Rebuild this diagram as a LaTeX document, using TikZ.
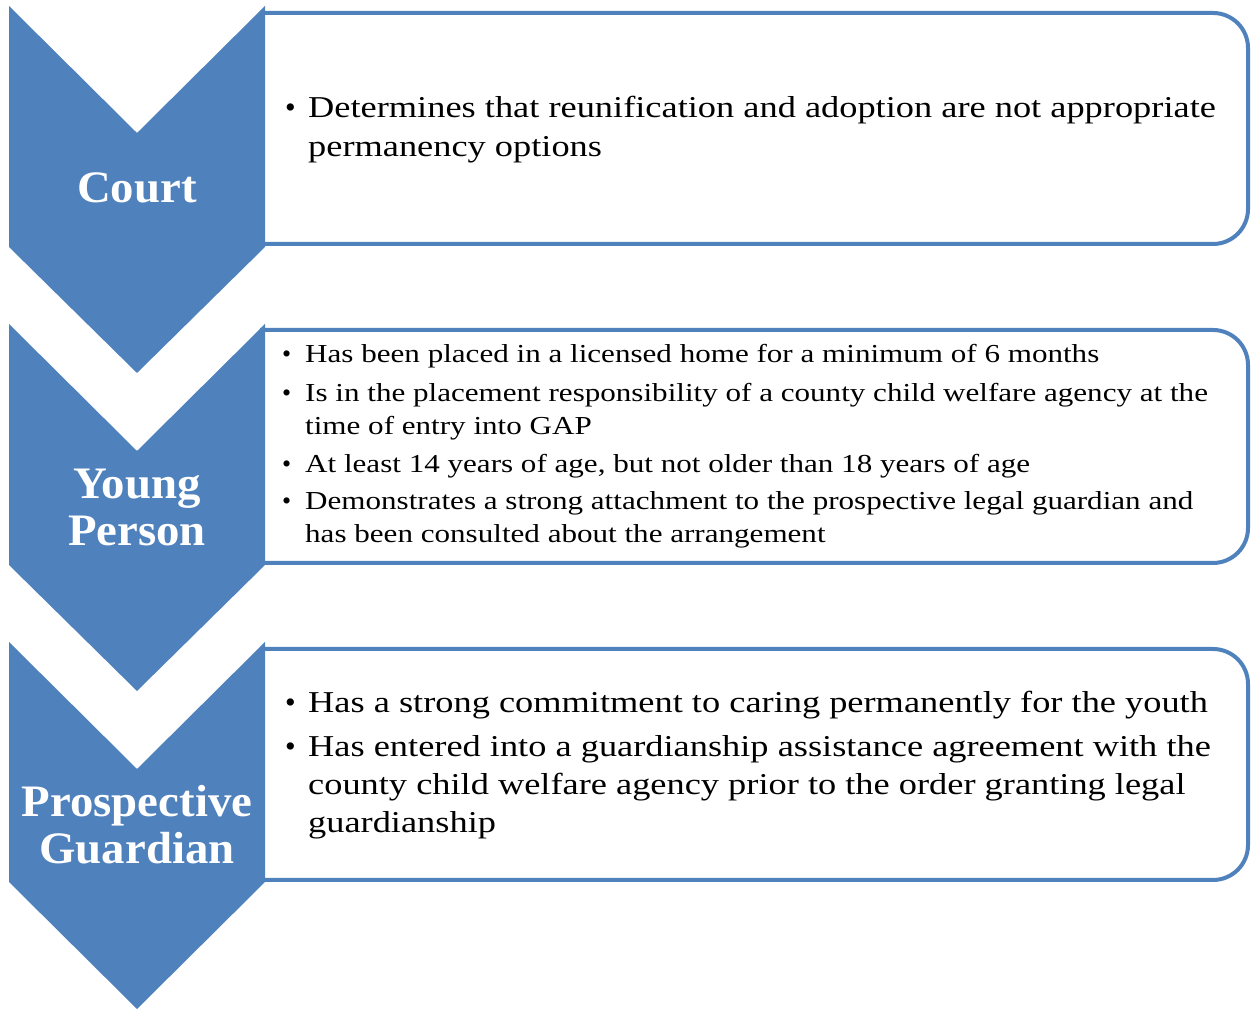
\documentclass[tikz,border=0pt]{standalone}
\usepackage{fontspec}
\setmainfont{Liberation Serif}
\newfontfamily\bodyfont{Liberation Serif}[FakeStretch=1.2]
\newfontfamily\labelfont{Liberation Serif}[FakeStretch=1.04]
\definecolor{chevblue}{HTML}{4F81BD}
\newcommand{\bul}{\makebox[23pt][l]{\rmfamily\textbullet}}
\newcommand{\ind}{\hspace*{23pt}}
\begin{document}
\begin{tikzpicture}[x=1pt,y=1pt,
  chev/.style={fill=chevblue, draw=none},
  infobox/.style={draw=chevblue, line width=4pt, fill=white},
  lbl/.style={text=white, font=\labelfont\fontsize{45}{47}\selectfont\bfseries, align=center, inner sep=0pt},
  bigtxt/.style={anchor=base west, inner sep=0pt, font=\bodyfont\fontsize{30.3}{38}\selectfont},
  smalltxt/.style={anchor=base west, inner sep=0pt, font=\bodyfont\fontsize{25.9}{33}\selectfont}]
\useasboundingbox (0,0) rectangle (1252,1011);
% boxes
\draw[infobox] (262,767) -- (262,998) -- (1213,998) arc[start angle=90,end angle=0,radius=35] -- (1248,802) arc[start angle=0,end angle=-90,radius=35] -- cycle;
\draw[infobox] (262,448) -- (262,681) -- (1213,681) arc[start angle=90,end angle=0,radius=35] -- (1248,483) arc[start angle=0,end angle=-90,radius=35] -- cycle;
\draw[infobox] (262,131) -- (262,362) -- (1213,362) arc[start angle=90,end angle=0,radius=35] -- (1248,166) arc[start angle=0,end angle=-90,radius=35] -- cycle;
% chevrons
\fill[chev] (9,1005) -- (137,878) -- (265,1005) -- (265,764) -- (137,638) -- (9,764) -- cycle;
\fill[chev] (9,687) -- (137,560) -- (265,687) -- (265,446) -- (137,320) -- (9,446) -- cycle;
\fill[chev] (9,369) -- (137,242) -- (265,369) -- (265,129) -- (137,2) -- (9,129) -- cycle;
% labels
\node[lbl] (court) at (137,823) {Court};
\node[lbl] (young) at (137,504) {Young\\Person};
\node[lbl] (guard) at (137,186) {Prospective\\Guardian};
% texts
\node[bigtxt] (t1) at (285,893) {\begin{tabular}[t]{@{}l@{}}
\bul Determines that reunification and adoption are not appropriate\\[1pt]
\ind permanency options\end{tabular}};
\node[smalltxt] (t2) at (282,648) {\begin{tabular}[t]{@{}l@{}}
\bul Has been placed in a licensed home for a minimum of 6 months\\[6pt]
\bul Is in the placement responsibility of a county child welfare agency at the\\
\ind time of entry into GAP\\[5pt]
\bul At least 14 years of age, but not older than 18 years of age\\[4pt]
\bul Demonstrates a strong attachment to the prospective legal guardian and\\
\ind has been consulted about the arrangement\end{tabular}};
\node[bigtxt] (t3) at (285,298) {\begin{tabular}[t]{@{}l@{}}
\bul Has a strong commitment to caring permanently for the youth\\[6pt]
\bul Has entered into a guardianship assistance agreement with the\\
\ind county child welfare agency prior to the order granting legal\\
\ind guardianship\end{tabular}};
\end{tikzpicture}
\end{document}
